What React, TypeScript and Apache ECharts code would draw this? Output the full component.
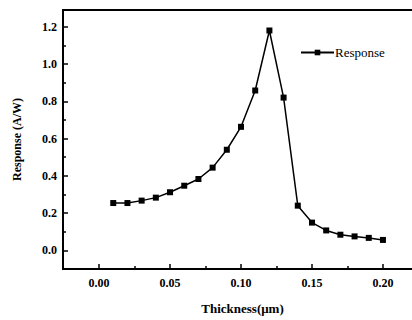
import React, { useEffect, useRef } from "react";
import * as echarts from "echarts";

const thickness = [0.01, 0.02, 0.03, 0.04, 0.05, 0.06, 0.07, 0.08, 0.09, 0.1, 0.11, 0.12, 0.13, 0.14, 0.15, 0.16, 0.17, 0.18, 0.19, 0.2];
const response = [0.254, 0.254, 0.267, 0.283, 0.312, 0.347, 0.383, 0.444, 0.54, 0.663, 0.858, 1.18, 0.82, 0.24, 0.149, 0.107, 0.084, 0.075, 0.067, 0.056];
const xMajor = [0, 0.05, 0.1, 0.15, 0.2];
const xMinor = [0.025, 0.075, 0.125, 0.175, 0.225];
const yMajor = [0, 0.2, 0.4, 0.6, 0.8, 1.0, 1.2];
const yMinor = [0.1, 0.3, 0.5, 0.7, 0.9, 1.1];

const FONT = "'Liberation Serif', 'Times New Roman', serif";

export default function App() {
  const ref = useRef<HTMLDivElement>(null);
  useEffect(() => {
    if (!ref.current) return;
    const chart = echarts.init(ref.current, null, { renderer: "svg" });
    const xmin = -0.0254, xmax = 0.2275, ymin = -0.1, ymax = 1.29;
    const baseX = {
      type: "value",
      min: xmin,
      max: xmax,
      splitLine: { show: false },
    };
    const baseY = {
      type: "value",
      min: ymin,
      max: ymax,
      splitLine: { show: false },
    };
    chart.setOption({
      animation: false,
      grid: {
        left: 63,
        right: 8,
        top: 10,
        bottom: 47,
        show: true,
        borderColor: "#000",
        borderWidth: 2,
        backgroundColor: "transparent",
      },
      legend: {
        left: 295,
        top: 41,
        itemWidth: 33,
        itemHeight: 7,
        itemGap: 0,
        textStyle: { fontFamily: FONT, fontSize: 13, color: "#000", padding: [0, 0, 0, -4] },
        data: [{ name: "Response" }],
      },
      xAxis: [
        {
          ...baseX,
          name: "Thickness(μm)",
          nameLocation: "middle",
          nameGap: 33,
          nameTextStyle: { fontFamily: FONT, fontSize: 13, fontWeight: "bold", color: "#000" },
          axisLine: { onZero: false, lineStyle: { color: "#000", width: 2 } },
          axisTick: { inside: true, length: 5, customValues: xMajor, lineStyle: { color: "#000", width: 1.5 } },
          axisLabel: {
            customValues: xMajor,
            margin: 8,
            fontFamily: FONT,
            fontSize: 12,
            fontWeight: "bold",
            color: "#000",
            formatter: (v: number) => v.toFixed(2),
          },
        },
        {
          ...baseX,
          position: "bottom",
          axisLine: { show: false, onZero: false },
          axisTick: { inside: true, length: 3, customValues: xMinor, lineStyle: { color: "#000", width: 1.5 } },
          axisLabel: { show: false },
        },
      ],
      yAxis: [
        {
          ...baseY,
          name: "Response (A/W)",
          nameLocation: "middle",
          nameGap: 40,
          nameTextStyle: { fontFamily: FONT, fontSize: 12, fontWeight: "bold", color: "#000" },
          axisLine: { onZero: false, lineStyle: { color: "#000", width: 2 } },
          axisTick: { inside: true, length: 5, customValues: yMajor, lineStyle: { color: "#000", width: 1.5 } },
          axisLabel: {
            customValues: yMajor,
            margin: 6,
            fontFamily: FONT,
            fontSize: 12,
            fontWeight: "bold",
            color: "#000",
            formatter: (v: number) => v.toFixed(1),
          },
        },
        {
          ...baseY,
          position: "left",
          axisLine: { show: false, onZero: false },
          axisTick: { inside: true, length: 3, customValues: yMinor, lineStyle: { color: "#000", width: 1.5 } },
          axisLabel: { show: false },
        },
      ],
      series: [
        {
          name: "Response",
          type: "line",
          xAxisIndex: 0,
          yAxisIndex: 0,
          data: thickness.map((t, i) => [t, response[i]]),
          symbol: "rect",
          symbolSize: 6,
          lineStyle: { color: "#000", width: 1.5 },
          itemStyle: { color: "#000" },
        },
      ],
    });
    return () => chart.dispose();
  }, []);
  return (
    <div style={{ position: "absolute", left: 0, top: 0, width: 412, height: 320, overflow: "hidden", background: "#fff" }}>
      <div ref={ref} style={{ width: 430, height: 320 }} />
    </div>
  );
}
